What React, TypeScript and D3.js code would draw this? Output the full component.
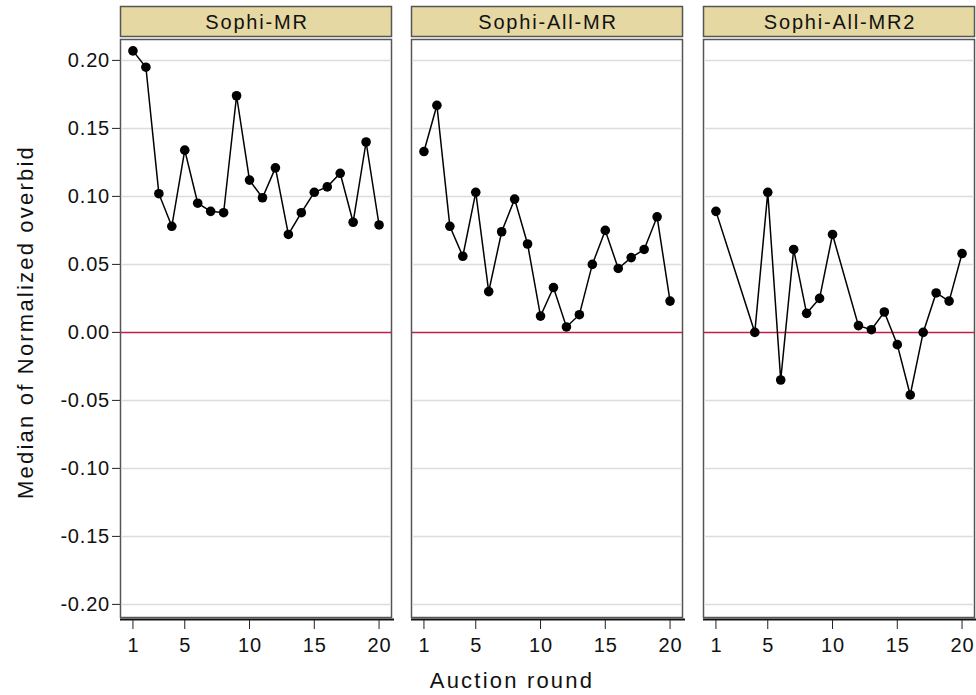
import React from "react";
import * as d3 from "d3";

const panelNames = ["Sophi-MR", "Sophi-All-MR", "Sophi-All-MR2"];

const roundsMR = d3.range(1, 21);
const valuesMR = [0.207, 0.195, 0.102, 0.078, 0.134, 0.095, 0.089, 0.088, 0.174, 0.112,
  0.099, 0.121, 0.072, 0.088, 0.103, 0.107, 0.117, 0.081, 0.140, 0.079];

const roundsAllMR = d3.range(1, 21);
const valuesAllMR = [0.133, 0.167, 0.078, 0.056, 0.103, 0.030, 0.074, 0.098, 0.065, 0.012,
  0.033, 0.004, 0.013, 0.050, 0.075, 0.047, 0.055, 0.061, 0.085, 0.023];

const roundsAllMR2 = [1, 4, 5, 6, 7, 8, 9, 10, 12, 13, 14, 15, 16, 17, 18, 19, 20];
const valuesAllMR2 = [0.089, 0.000, 0.103, -0.035, 0.061, 0.014, 0.025, 0.072, 0.005, 0.002,
  0.015, -0.009, -0.046, 0.000, 0.029, 0.023, 0.058];

const yTicks = [0.2, 0.15, 0.1, 0.05, 0, -0.05, -0.1, -0.15, -0.2];
const xTicks = [1, 5, 10, 15, 20];

const series = [
  { rounds: roundsMR, values: valuesMR },
  { rounds: roundsAllMR, values: valuesAllMR },
  { rounds: roundsAllMR2, values: valuesAllMR2 },
];

const font = "'Liberation Sans', Arial, sans-serif";

export default function App() {
  const width = 976;
  const height = 695;
  const panelLefts = [120, 411, 703];
  const panelW = 272;
  const top = 40;
  const bottom = 618;

  const y = d3.scaleLinear().domain([-0.21, 0.215]).range([bottom, top]);
  // hyphen instead of the unicode minus, like the original
  const fmt = (v: number) => d3.format(".2f")(v).replace("\u2212", "-");

  return (
    <div style={{ position: "absolute", left: 0, top: 0 }}>
      <svg width={width} height={height} style={{ display: "block", fontFamily: font }}>
        <rect width={width} height={height} fill="white" />

        {/* y axis */}
        {yTicks.map((t) => (
          <g key={t}>
            <line x1={112} x2={120} y1={y(t)} y2={y(t)} stroke="#222" strokeWidth={1} />
            <text x={110} y={y(t)} dy="0.35em" textAnchor="end" fontSize={20} letterSpacing={0.8} fill="#111">
              {fmt(t)}
            </text>
          </g>
        ))}
        <text
          transform={`translate(33, 322) rotate(-90)`}
          textAnchor="middle"
          fontSize={22}
          letterSpacing={2.2}
          fill="#111"
        >
          Median of Normalized overbid
        </text>

        {series.map((s, i) => {
          const x0 = panelLefts[i];
          const x = d3.scaleLinear().domain([0, 21]).range([x0, x0 + panelW]);
          const line = d3
            .line<number>()
            .x((_, j) => x(s.rounds[j]))
            .y((d) => y(d));
          return (
            <g key={i}>
              {/* header */}
              <rect x={x0 + 0.5} y={6.5} width={panelW - 1} height={30} fill="#E6D8A2" stroke="#555" strokeWidth={1.5} />
              <text x={x0 + panelW / 2 + 1} y={22} dy="0.35em" textAnchor="middle" fontSize={20} letterSpacing={1.8} fill="#111">
                {panelNames[i]}
              </text>
              {/* panel box */}
              <rect x={x0 + 0.5} y={top - 0.5} width={panelW - 1} height={bottom - top} fill="white" stroke="#555" strokeWidth={1.5} />
              {yTicks.map((t) =>
                t === 0 ? null : (
                  <line key={t} x1={x0 + 1} x2={x0 + panelW - 1} y1={y(t)} y2={y(t)} stroke="#dcdcdc" strokeWidth={1.5} />
                )
              )}
              <line x1={x0 + 1} x2={x0 + panelW - 1} y1={y(0)} y2={y(0)} stroke="#C41E48" strokeWidth={1.5} />
              {/* x axis */}
              <line x1={x0} x2={x0 + panelW + 2} y1={bottom + 1.5} y2={bottom + 1.5} stroke="#111" strokeWidth={2} />
              {xTicks.map((t) => (
                <g key={t}>
                  <line x1={x(t)} x2={x(t)} y1={bottom + 2} y2={bottom + 11} stroke="#222" strokeWidth={1} />
                  <text x={x(t) + 0.5} y={645} dy="0.35em" textAnchor="middle" fontSize={20} letterSpacing={0.8} fill="#111">
                    {t}
                  </text>
                </g>
              ))}
              {/* data */}
              <path d={line(s.values) || ""} fill="none" stroke="#000" strokeWidth={1.5} />
              {s.values.map((v, j) => (
                <circle key={j} cx={x(s.rounds[j])} cy={y(v)} r={4.8} fill="#000" />
              ))}
            </g>
          );
        })}

        <text x={512} y={680} dy="0.35em" textAnchor="middle" fontSize={22} letterSpacing={2.2} fill="#111">
          Auction round
        </text>
      </svg>
    </div>
  );
}
